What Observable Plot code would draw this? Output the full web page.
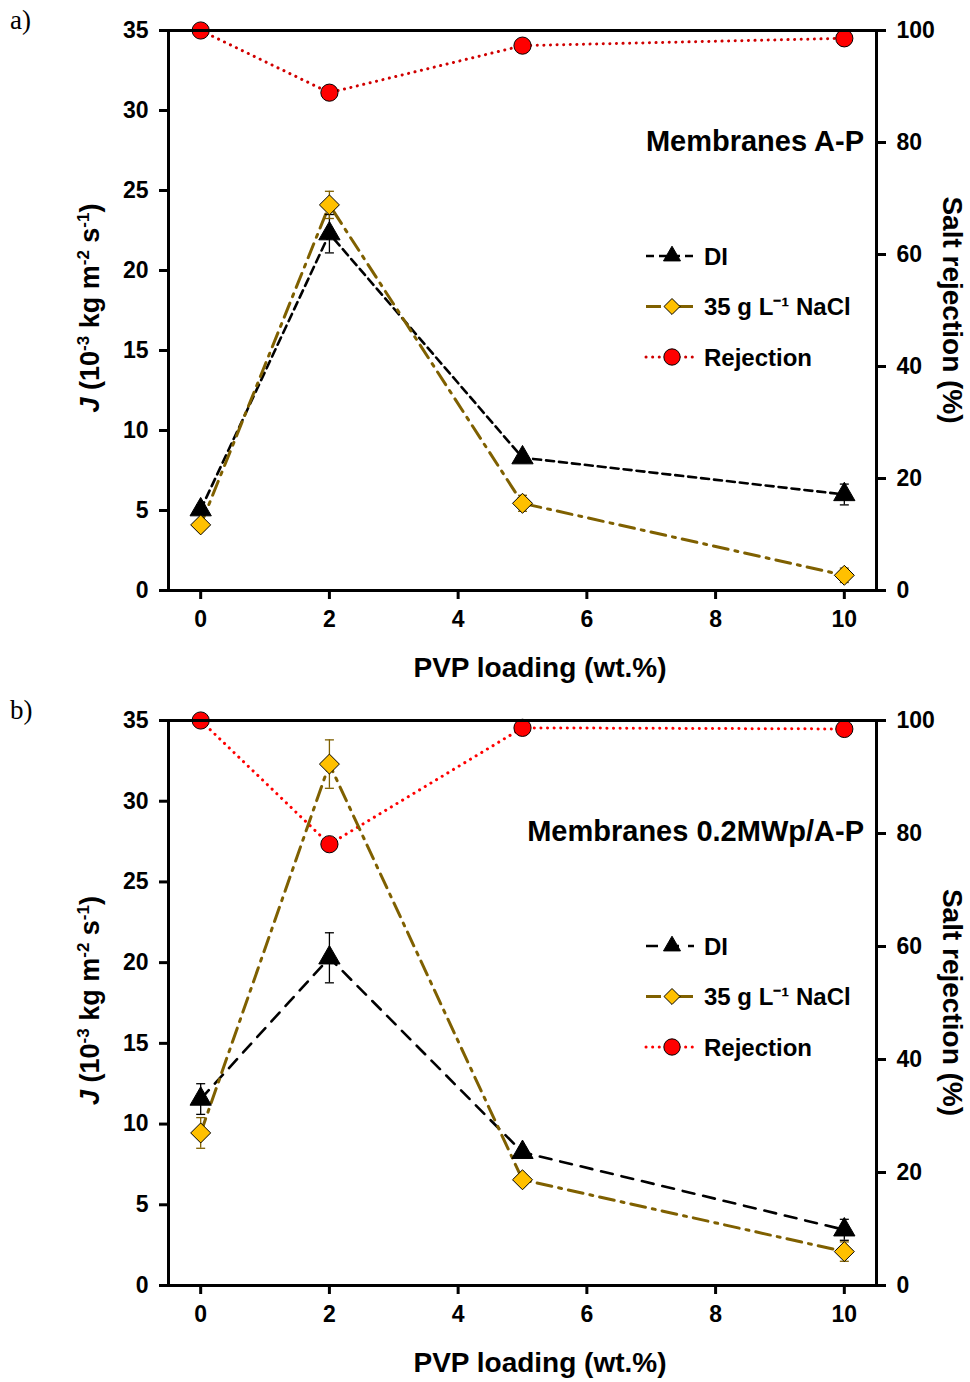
<!DOCTYPE html>
<html><head><meta charset="utf-8">
<script src="https://cdn.jsdelivr.net/npm/d3@7"></script>
<script src="https://cdn.jsdelivr.net/npm/@observablehq/plot@0.6"></script>
<style>
body{margin:0;background:#fff;font-family:"Liberation Sans",Arial,sans-serif;}
#wrap{position:relative;width:970px;height:1382px;overflow:hidden;}
.panel{position:absolute;left:0;}
.tag{position:absolute;left:10px;font-family:"Liberation Serif","Times New Roman",serif;font-size:27px;line-height:1;}
</style></head><body>
<div id="wrap"></div>
<script>
// ---- shared axes ----
const pvp = [0, 2, 5, 10];
const xTicks = [0, 2, 4, 6, 8, 10];
const jTicks = [0, 5, 10, 15, 20, 25, 30, 35];
const rejTicks = [0, 20, 40, 60, 80, 100];
const J_MAX = 35, REJ_MAX = 100;

// ---- panel a) Membranes A-P ----
const aDI       = [5.05, 22.3, 8.3, 6.0];
const aDIerr    = [0.3, 1.2, 0.3, 0.65];
const aNaCl     = [4.1, 24.1, 5.45, 0.95];
const aNaClErr  = [0.3, 0.85, 0.5, 0.45];
const aRej      = [100, 88.9, 97.3, 98.6];

// ---- panel b) Membranes 0.2MWp/A-P ----
const bDI       = [11.55, 20.3, 8.25, 3.45];
const bDIerr    = [0.95, 1.55, 0.3, 0.65];
const bNaCl     = [9.45, 32.3, 6.55, 2.1];
const bNaClErr  = [0.95, 1.5, 0.3, 0.6];
const bRej      = [100, 78.1, 98.7, 98.5];

const seriesNames = ["DI", "35 g L\u207B\u00B9 NaCl", "Rejection"];

const FONT = '"Liberation Sans", Arial, sans-serif';
const toJ = r => r * J_MAX / REJ_MAX;
const cap = {draw(ctx){ ctx.moveTo(-4.5, 0); ctx.lineTo(4.5, 0); }};

const styles = {
  di:   {stroke: "#000000", dash: "9,6", width: 2.6},
  nacl: {stroke: "#7F6000", dash: "15,7,3,7", width: 3},
  rej:  {stroke: "#E00000", dash: "0.1,6.5", width: 3}
};
const R_TRI = 7.9, R_DIA = 9, R_CIR = 8.6;

function panel({top, height, mTop, mBottom, di, diErr, nacl, naclErr, rej, label, tag, rejColor, diDash}) {
  const rows = (v, e) => pvp.map((x, i) => ({x, v: v[i], e: e ? e[i] : 0}));
  const dDI = rows(di, diErr), dNa = rows(nacl, naclErr), dRej = rows(rej);
  const diS = {...styles.di, dash: diDash || styles.di.dash};
  const rejS = {...styles.rej, stroke: rejColor};

  const svg = Plot.plot({
    width: 970, height, marginLeft: 168, marginRight: 94, marginTop: mTop, marginBottom: mBottom,
    x: {domain: [-0.5, 10.5]},
    y: {domain: [0, J_MAX]},
    style: {fontFamily: FONT, fontSize: "23px", fontWeight: "bold", color: "#000", background: "#fff", overflow: "visible"},
    marks: [
      // series lines
      Plot.line(dRej, {x: "x", y: d => toJ(d.v), stroke: rejS.stroke, strokeWidth: rejS.width, strokeDasharray: rejS.dash, strokeLinecap: "round"}),
      Plot.line(dDI, {x: "x", y: "v", stroke: diS.stroke, strokeWidth: diS.width, strokeDasharray: diS.dash}),
      Plot.line(dNa, {x: "x", y: "v", stroke: styles.nacl.stroke, strokeWidth: styles.nacl.width, strokeDasharray: styles.nacl.dash}),
      // error bars
      Plot.ruleX(dDI, {x: "x", y1: d => d.v - d.e, y2: d => d.v + d.e, stroke: "#000", strokeWidth: 1.3}),
      Plot.dot(dDI, {x: "x", y: d => d.v - d.e, symbol: cap, r: 3, stroke: "#000", strokeWidth: 1.3}),
      Plot.dot(dDI, {x: "x", y: d => d.v + d.e, symbol: cap, r: 3, stroke: "#000", strokeWidth: 1.3}),
      Plot.ruleX(dNa, {x: "x", y1: d => d.v - d.e, y2: d => d.v + d.e, stroke: "#7F6000", strokeWidth: 1.3}),
      Plot.dot(dNa, {x: "x", y: d => d.v - d.e, symbol: cap, r: 3, stroke: "#7F6000", strokeWidth: 1.3}),
      Plot.dot(dNa, {x: "x", y: d => d.v + d.e, symbol: cap, r: 3, stroke: "#7F6000", strokeWidth: 1.3}),
      // markers
      Plot.dot(dDI, {x: "x", y: "v", symbol: "triangle", r: R_TRI, fill: "#000", stroke: "#000", strokeWidth: 1}),
      Plot.dot(dNa, {x: "x", y: "v", symbol: "diamond2", r: R_DIA, fill: "#FFC000", stroke: "#000", strokeWidth: 1}),
      Plot.dot(dRej, {x: "x", y: d => toJ(d.v), symbol: "circle", r: R_CIR, fill: "#FF0000", stroke: "#000", strokeWidth: 1}),
      // frame & axes
      Plot.frame({stroke: "#000", strokeWidth: 3}),
      Plot.axisX({ticks: xTicks, tickSize: 9, tickPadding: 11, strokeWidth: 3, label: null, fontSize: 23}),
      Plot.axisY({ticks: jTicks, tickSize: 9, tickPadding: 11, strokeWidth: 3, label: null, fontSize: 23}),
      Plot.axisY({anchor: "right", ticks: rejTicks.map(toJ), tickFormat: d => Math.round(d * REJ_MAX / J_MAX), tickSize: 9, tickPadding: 11, strokeWidth: 3, label: null, fontSize: 23})
    ]
  });

  const s = d3.select(svg);
  const plotBottom = height - mBottom;
  const midY = (mTop + plotBottom) / 2;

  // x title
  s.append("text").attr("x", 540).attr("y", plotBottom + 87).attr("text-anchor", "middle")
    .attr("font-size", 28).attr("font-weight", "bold").attr("font-family", FONT).text("PVP loading (wt.%)");

  // left title with superscripts
  const lt = s.append("text").attr("transform", `translate(99,${midY - 2}) rotate(-90)`)
    .attr("text-anchor", "middle").attr("font-size", 27).attr("font-weight", "bold").attr("font-family", FONT);
  lt.append("tspan").attr("font-style", "italic").text("J");
  lt.append("tspan").text(" (10");
  lt.append("tspan").attr("font-size", 17).attr("dy", -10).text("-3");
  lt.append("tspan").attr("dy", 10).text(" kg m");
  lt.append("tspan").attr("font-size", 17).attr("dy", -10).text("-2");
  lt.append("tspan").attr("dy", 10).text(" s");
  lt.append("tspan").attr("font-size", 17).attr("dy", -10).text("-1");
  lt.append("tspan").attr("dy", 10).text(")");

  // right title
  s.append("text").attr("transform", `translate(943,${midY}) rotate(90)`)
    .attr("text-anchor", "middle").attr("font-size", 28).attr("font-weight", "bold").attr("font-family", FONT)
    .text("Salt rejection (%)");

  // membrane label
  s.append("text").attr("x", 864).attr("y", mTop + 121).attr("text-anchor", "end")
    .attr("font-size", 29).attr("font-weight", "bold").attr("font-family", FONT).text(label);

  // legend
  const lg = s.append("g").attr("font-family", FONT).attr("font-weight", "bold").attr("font-size", 24).attr("text-anchor", "start");
  const items = [
    {name: seriesNames[0], st: diS, sym: d3.symbolTriangle, r: R_TRI * 0.8, fill: "#000"},
    {name: seriesNames[1], st: styles.nacl, sym: d3.symbolDiamond2, r: R_DIA * 0.8, fill: "#FFC000"},
    {name: seriesNames[2], st: rejS, sym: d3.symbolCircle, r: R_CIR * 0.95, fill: "#FF0000"}
  ];
  items.forEach((it, i) => {
    const y = mTop + 226 + i * 50.5;
    lg.append("line").attr("x1", 646).attr("x2", 694).attr("y1", y).attr("y2", y)
      .attr("stroke", it.st.stroke).attr("stroke-width", it.st.width).attr("stroke-dasharray", it.st.dash)
      .attr("stroke-linecap", it.st === rejS ? "round" : "butt");
    lg.append("path").attr("transform", `translate(672,${y})`)
      .attr("d", d3.symbol(it.sym, Math.PI * it.r * it.r)())
      .attr("fill", it.fill).attr("stroke", "#000").attr("stroke-width", 1);
    lg.append("text").attr("x", 704).attr("y", y).attr("dy", "0.36em").attr("text-anchor", "start").text(it.name);
  });

  const div = document.createElement("div");
  div.className = "panel";
  div.style.top = top + "px";
  div.appendChild(svg);
  const t = document.createElement("div");
  t.className = "tag"; t.style.top = (top + 7) + "px"; t.textContent = tag;
  const wrap = document.getElementById("wrap");
  wrap.appendChild(div);
  wrap.appendChild(t);
}

panel({top: 0, height: 690, mTop: 30, mBottom: 100, di: aDI, diErr: aDIerr, nacl: aNaCl, naclErr: aNaClErr, rej: aRej,
  label: "Membranes A-P", tag: "a)", rejColor: "#D00000", diDash: "8,5"});
panel({top: 690, height: 692, mTop: 30, mBottom: 97, di: bDI, diErr: bDIerr, nacl: bNaCl, naclErr: bNaClErr, rej: bRej,
  label: "Membranes 0.2MWp/A-P", tag: "b)", rejColor: "#FF0000", diDash: "12,9"});
</script>
</body></html>
